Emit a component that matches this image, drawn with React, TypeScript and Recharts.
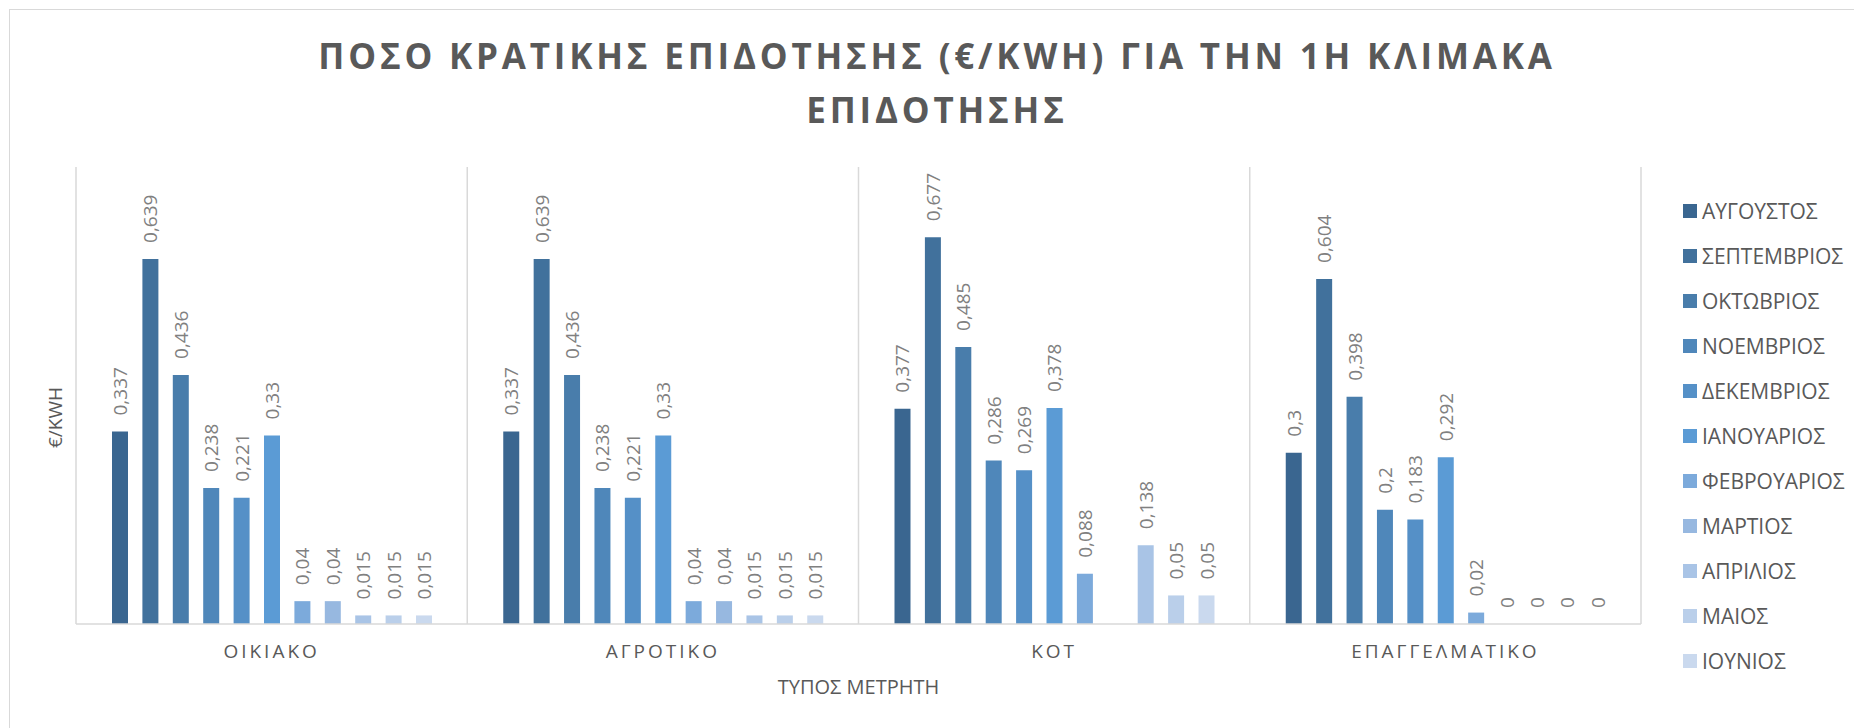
import React from 'react';
import { BarChart, Bar, XAxis, YAxis, CartesianGrid, Legend, LabelList } from 'recharts';

const CATEGORIES = ['ΟΙΚΙΑΚΟ', 'ΑΓΡΟΤΙΚΟ', 'ΚΟΤ', 'ΕΠΑΓΓΕΛΜΑΤΙΚΟ'];
const MONTHS = ['ΑΥΓΟΥΣΤΟΣ', 'ΣΕΠΤΕΜΒΡΙΟΣ', 'ΟΚΤΩΒΡΙΟΣ', 'ΝΟΕΜΒΡΙΟΣ', 'ΔΕΚΕΜΒΡΙΟΣ', 'ΙΑΝΟΥΑΡΙΟΣ', 'ΦΕΒΡΟΥΑΡΙΟΣ', 'ΜΑΡΤΙΟΣ', 'ΑΠΡΙΛΙΟΣ', 'ΜΑΙΟΣ', 'ΙΟΥΝΙΟΣ'];

const AUGUST = [0.337, 0.337, 0.377, 0.3];
const SEPTEMBER = [0.639, 0.639, 0.677, 0.604];
const OCTOBER = [0.436, 0.436, 0.485, 0.398];
const NOVEMBER = [0.238, 0.238, 0.286, 0.2];
const DECEMBER = [0.221, 0.221, 0.269, 0.183];
const JANUARY = [0.33, 0.33, 0.378, 0.292];
const FEBRUARY = [0.04, 0.04, 0.088, 0.02];
const MARCH = [0.04, 0.04, null, 0];
const APRIL = [0.015, 0.015, 0.138, 0];
const MAY = [0.015, 0.015, 0.05, 0];
const JUNE = [0.015, 0.015, 0.05, 0];

const SERIES_VALUES = [AUGUST, SEPTEMBER, OCTOBER, NOVEMBER, DECEMBER, JANUARY, FEBRUARY, MARCH, APRIL, MAY, JUNE];
const COLORS = ['#3a6690', '#41719c', '#497dab', '#4f87ba', '#5590c7', '#5b9bd5', '#7caadb', '#97b8e0', '#a9c4e6', '#bacfea', '#cad9ee'];

const TITLE_LINES = ['ΠΟΣΟ ΚΡΑΤΙΚΗΣ ΕΠΙΔΟΤΗΣΗΣ (€/KWH) ΓΙΑ ΤΗΝ 1Η ΚΛΙΜΑΚΑ', 'ΕΠΙΔΟΤΗΣΗΣ'];
const X_TITLE = 'ΤΥΠΟΣ ΜΕΤΡΗΤΗ';
const Y_TITLE = '€/KWH';

const data = CATEGORIES.map((cat, ci) => {
  const row: any = { cat };
  MONTHS.forEach((m, mi) => {
    row[m] = SERIES_VALUES[mi][ci];
  });
  return row;
});

const FONT = '"Open Sans", sans-serif';

const ValueLabel = (props: any) => {
  const { x, y, width, value } = props;
  if (value === null || value === undefined) return null;
  const cx = x + width / 2;
  const ty = y - 16;
  return (
    <text
      x={cx}
      y={ty}
      transform={`rotate(-90, ${cx}, ${ty})`}
      textAnchor="start"
      dominantBaseline="central"
      fill="#808080"
      fontSize={19}
      fontFamily={FONT}
    >
      {String(value).replace('.', ',')}
    </text>
  );
};

const renderLegend = (props: any) => {
  const payload = [...(props.payload || [])].sort(
    (a: any, b: any) => MONTHS.indexOf(a.value) - MONTHS.indexOf(b.value)
  );
  return (
    <div style={{ fontFamily: FONT }}>
      {payload.map((p: any) => (
        <div key={p.value} style={{ height: 45, display: 'flex', alignItems: 'center' }}>
          <div style={{ width: 14, height: 14, background: p.color, marginRight: 5 }} />
          <span style={{ fontSize: 21, color: '#595959', whiteSpace: 'nowrap' }}>{p.value}</span>
        </div>
      ))}
    </div>
  );
};

const zeroMin = (value: any) => (value === 0 ? 0.01 : 0);

export default function App() {
  return (
    <div style={{ position: 'absolute', left: 0, top: 0, width: 1854, height: 728, overflow: 'hidden', background: '#fff', fontFamily: FONT }}>
      <div style={{ position: 'absolute', left: 9, top: 9, width: 2000, height: 1000, border: '1px solid #d9d9d9' }} />
      <div style={{ position: 'absolute', left: 6, top: 29, width: 1862, textAlign: 'center', fontSize: 35, fontWeight: 700, color: '#595959', letterSpacing: 3.8, lineHeight: '54px' }}>
        {TITLE_LINES.map((t) => (
          <div key={t}>{t}</div>
        ))}
      </div>
      <div style={{ position: 'absolute', left: 0, top: 0 }}>
        <BarChart
          width={1854}
          height={728}
          data={data}
          margin={{ top: 167, right: 213, bottom: 0, left: 40 }}
          barSize={16}
          barGap={14.4}
        >
          <CartesianGrid
            horizontal={false}
            vertical
            stroke="#d9d9d9"
            strokeWidth={1.5}
            verticalCoordinatesGenerator={({ offset }: any) =>
              [0, 1, 2, 3, 4].map((i) => offset.left + (i * offset.width) / CATEGORIES.length)
            }
          />
          <XAxis
            dataKey="cat"
            height={104}
            interval={0}
            tickLine={false}
            tickSize={0}
            tickMargin={21}
            axisLine={{ stroke: '#d9d9d9', strokeWidth: 1.5 }}
            tick={{ fill: '#595959', fontSize: 19, letterSpacing: 3, fontFamily: FONT }}
            label={{
              content: ({ viewBox }: any) => (
                <text
                  x={viewBox.x + viewBox.width / 2}
                  y={viewBox.y + 62}
                  textAnchor="middle"
                  dominantBaseline="central"
                  fill="#595959"
                  fontSize={20}
                  fontFamily={FONT}
                >
                  {X_TITLE}
                </text>
              ),
            }}
          />
          <YAxis
            width={36}
            domain={[0, 0.8]}
            tick={false}
            tickLine={false}
            axisLine={false}
            label={{
              content: ({ viewBox }: any) => {
                const cx = viewBox.x + viewBox.width / 2 - 3;
                const cy = viewBox.y + viewBox.height / 2 + 22;
                return (
                  <text
                    x={cx}
                    y={cy}
                    transform={`rotate(-90, ${cx}, ${cy})`}
                    textAnchor="middle"
                    dominantBaseline="central"
                    fill="#595959"
                    fontSize={19}
                    fontFamily={FONT}
                  >
                    {Y_TITLE}
                  </text>
                );
              },
            }}
          />
          <Legend
            layout="vertical"
            align="center"
            verticalAlign="middle"
            wrapperStyle={{ left: 1683, top: 188, width: 170 }}
            content={renderLegend}
          />
          {MONTHS.map((m, i) => (
            <Bar key={m} dataKey={m} fill={COLORS[i]} minPointSize={zeroMin} isAnimationActive={false}>
              <LabelList dataKey={m} content={ValueLabel} />
            </Bar>
          ))}
        </BarChart>
      </div>
    </div>
  );
}
